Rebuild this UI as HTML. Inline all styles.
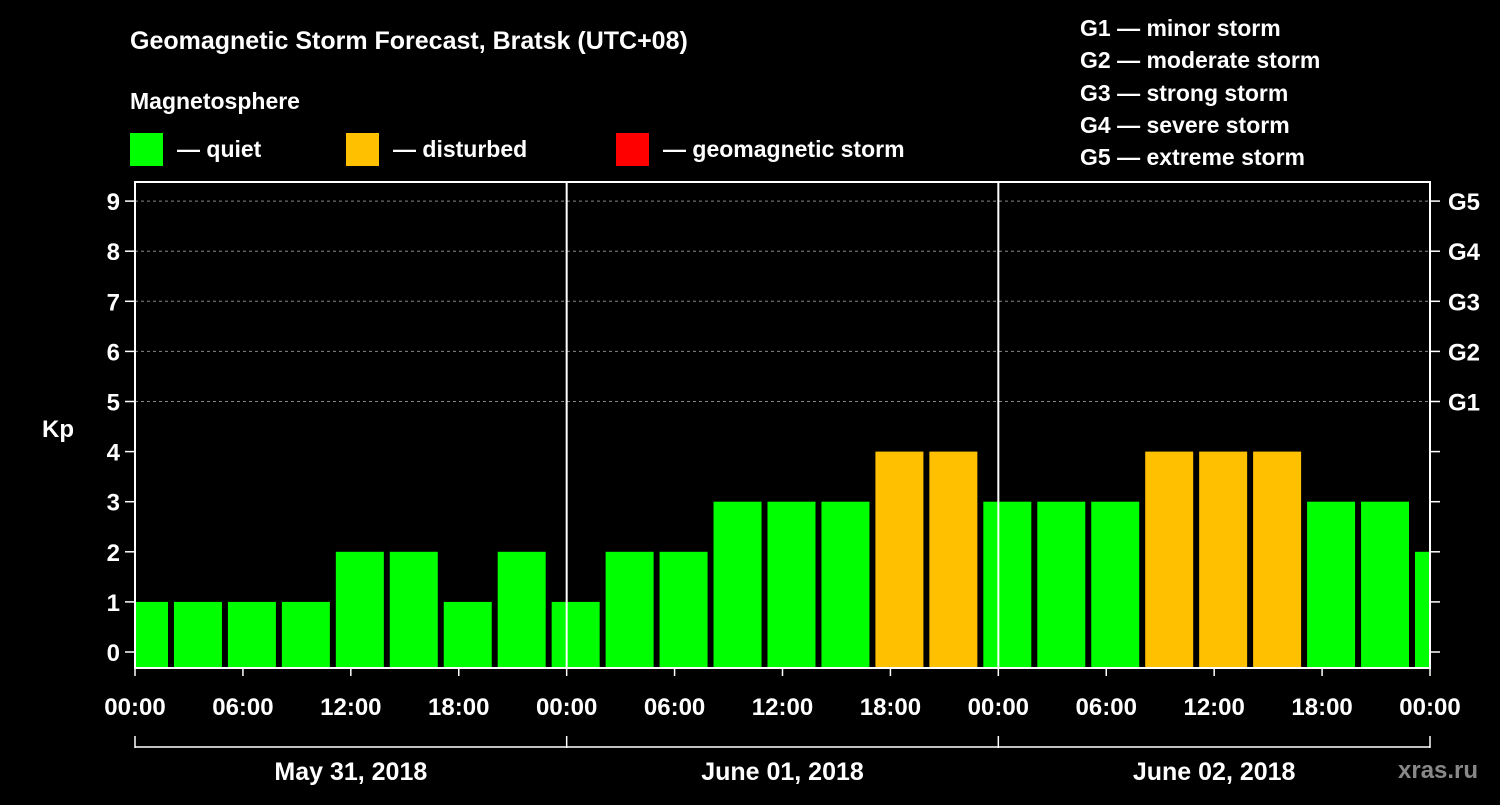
<!DOCTYPE html>
<html><head><meta charset="utf-8"><style>
body{margin:0;background:#000;width:1500px;height:800px;overflow:hidden}
svg text{font-family:"Liberation Sans",Arial,sans-serif;font-weight:bold;fill:#fff}
</style></head><body>
<svg id="c" width="1500" height="800">
<text x="130" y="49" font-size="25">Geomagnetic Storm Forecast, Bratsk (UTC+08)</text>
<text x="130" y="109" font-size="23">Magnetosphere</text>
<g><rect x="130" y="133" width="33" height="33" fill="#00ff00"/><text x="177" y="157" font-size="23">— quiet</text></g>
<g><rect x="346" y="133" width="33" height="33" fill="#ffc000"/><text x="393" y="157" font-size="23">— disturbed</text></g>
<g><rect x="616" y="133" width="33" height="33" fill="#ff0000"/><text x="663" y="157" font-size="23">— geomagnetic storm</text></g>
<g font-size="23">
<text x="1080" y="36">G1 — minor storm</text>
<text x="1080" y="68">G2 — moderate storm</text>
<text x="1080" y="101">G3 — strong storm</text>
<text x="1080" y="133">G4 — severe storm</text>
<text x="1080" y="165">G5 — extreme storm</text>
</g>
<text x="42" y="437" font-size="24">Kp</text>
<text x="1398" y="778" font-size="24" style="fill:#888">xras.ru</text>
<g id="plot"></g>
</svg>
<script>
const kpValues=[1,1,1,1,2,2,1,2,1,2,2,3,3,3,4,4,3,3,3,4,4,4,3,3,2];
const yTicks=[0,1,2,3,4,5,6,7,8,9];
const gLabels=["G1","G2","G3","G4","G5"];
const xTickLabels=["00:00","06:00","12:00","18:00","00:00","06:00","12:00","18:00","00:00","06:00","12:00","18:00","00:00"];
const dateLabels=["May 31, 2018","June 01, 2018","June 02, 2018"];
const X0=135,X1=1430,YT=182,YB=668;
const hourPx=(X1-X0)/72;
const x=h=>X0+h*hourPx;
const y=v=>652-v*50.1;
const ns="http://www.w3.org/2000/svg";
const g=document.getElementById('plot');
function mk(t,a,p){const e=document.createElementNS(ns,t);for(const k in a)e.setAttribute(k,a[k]);(p||g).appendChild(e);return e;}
// clip
const defs=mk('defs',{});const cp=mk('clipPath',{id:'cp'},defs);mk('rect',{x:X0,y:YT,width:X1-X0,height:YB-YT},cp);
const bars=mk('g',{'clip-path':'url(#cp)'});


// gridlines
yTicks.forEach(v=>{
 if(v>=5){const l=mk('line',{x1:X0,x2:X1,y1:y(v),y2:y(v),stroke:'#888','stroke-dasharray':'3,3'});
 
 }
});
kpValues.forEach((v,i)=>{
 const c=x(i*3+0.5);
 const r=mk('rect',{x:c-24,y:y(v),width:48,height:YB-y(v),fill:v>=5?'#ff0000':v>=4?'#ffc000':'#00ff00'},bars);
 
 
});
const fr=mk('rect',{x:X0,y:YT,width:X1-X0,height:YB-YT,fill:'none',stroke:'#fff','stroke-width':2});


[24,48].forEach(h=>{const l=mk('line',{x1:x(h),x2:x(h),y1:YT,y2:YB,stroke:'#fff','stroke-width':2});
 
 });
yTicks.forEach(v=>{
 mk('line',{x1:X0-10,x2:X0,y1:y(v),y2:y(v),stroke:'#fff','stroke-width':1.5});
 mk('line',{x1:X1,x2:X1+10,y1:y(v),y2:y(v),stroke:'#fff','stroke-width':1.5});
 const t=mk('text',{x:X0-15,y:y(v)+9,'font-size':24,'text-anchor':'end'});t.textContent=v;
 
 
});
gLabels.forEach((s,i)=>{const t=mk('text',{x:1448,y:y(5+i)+9,'font-size':24});t.textContent=s;
 
 });
xTickLabels.forEach((s,i)=>{
 mk('line',{x1:x(i*6),x2:x(i*6),y1:YB,y2:YB+8,stroke:'#fff','stroke-width':1.5});
 const t=mk('text',{x:x(i*6),y:715,'font-size':24,'text-anchor':'middle'});t.textContent=s;
 
 
});
mk('line',{x1:X0,x2:X1,y1:747,y2:747,stroke:'#fff','stroke-width':1.5});
[0,24,48,72].forEach(h=>mk('line',{x1:x(h),x2:x(h),y1:736,y2:748,stroke:'#fff','stroke-width':1.5}));
dateLabels.forEach((s,i)=>{const t=mk('text',{x:x(i*24+12),y:780,'font-size':25,'text-anchor':'middle'});t.textContent=s;
 
 });
</script>
</body></html>
